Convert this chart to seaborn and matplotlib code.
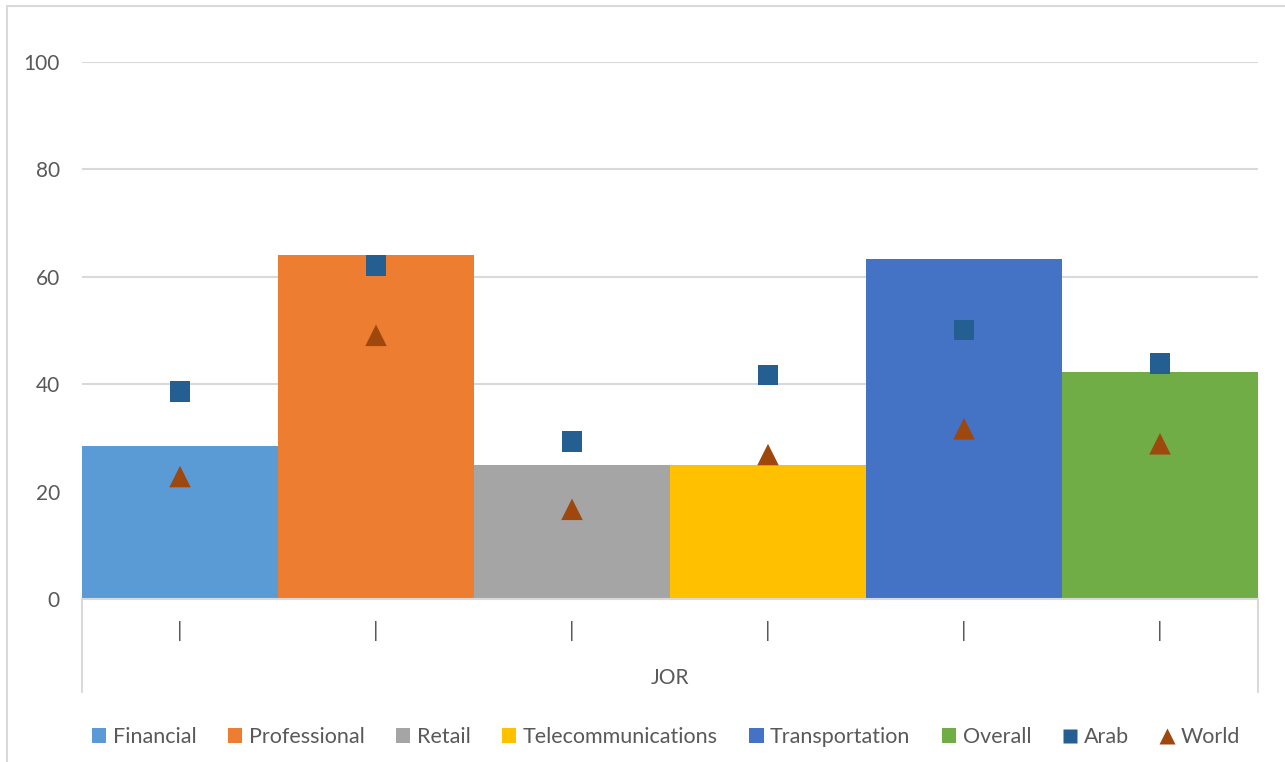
import matplotlib
matplotlib.use("Agg")
import matplotlib.pyplot as plt
import seaborn as sns
import pandas as pd
from matplotlib.patches import Patch, Rectangle
from matplotlib.lines import Line2D

# ---- data ----
sectors = ["Financial", "Professional", "Retail", "Telecommunications", "Transportation", "Overall"]
jor_values = [28.5, 64.0, 24.9, 24.9, 63.4, 42.2]
arab_values = [38.6, 62.1, 29.4, 41.7, 50.1, 43.9]
world_values = [22.8, 49.1, 16.7, 26.9, 31.7, 28.9]
country = "JOR"
yticks = [0, 20, 40, 60, 80, 100]

bar_colors = ["#5B9BD5", "#ED7D31", "#A5A5A5", "#FFC000", "#4472C4", "#70AD47"]
arab_color = "#255E91"
world_color = "#9E480E"
text_color = "#595959"
grid_color = "#D9D9D9"

sns.set_theme(style="white")
plt.rcParams["font.family"] = ["Lato", "DejaVu Sans"]

W, H = 1285, 762
fig = plt.figure(figsize=(W / 100, H / 100), dpi=100)
ax = fig.add_axes([82 / W, (H - 599) / H, (1258 - 82) / W, (599 - 62) / H])

df = pd.DataFrame({"sector": sectors, "value": jor_values})
sns.barplot(data=df, x="sector", y="value", hue="sector", palette=bar_colors,
            saturation=1, width=1.0, dodge=False, legend=False, ax=ax, zorder=2, linewidth=0)

pts = pd.DataFrame({"sector": sectors, "arab": arab_values, "world": world_values})
sns.scatterplot(data=pts, x="sector", y="arab", marker="s", s=225, color=arab_color,
                edgecolor="none", ax=ax, zorder=4)
sns.scatterplot(data=pts, x="sector", y="world", marker="^", s=240, color=world_color,
                edgecolor="none", ax=ax, zorder=4)

ax.set_xlim(-0.5, len(sectors) - 0.5)
ax.set_ylim(0, 100)
ax.set_yticks(yticks)
ax.set_yticklabels([str(v) for v in yticks], fontsize=15, color=text_color)
ax.yaxis.grid(True, color=grid_color, linewidth=1.5, zorder=0)
ax.set_axisbelow(True)
ax.tick_params(axis="y", length=0, pad=16)
ax.set_xticks(range(len(sectors)))
ax.set_xticklabels(["|"] * len(sectors), fontsize=15.5, color=text_color)
ax.tick_params(axis="x", length=0, pad=16)
ax.set_xlabel(country, fontsize=15, color=text_color, labelpad=19)
ax.set_ylabel("")
for sp in ["top", "right", "left"]:
    ax.spines[sp].set_visible(False)
ax.spines["bottom"].set_color(grid_color)
ax.spines["bottom"].set_linewidth(1.5)

# multi-level axis divider lines
for xpix in (82, 1258):
    fig.add_artist(Line2D([xpix / W, xpix / W], [(H - 599) / H, (H - 692) / H],
                          color=grid_color, linewidth=1.5))

# chart border
fig.add_artist(Rectangle((7 / W, -0.01), 1.2, (H - 6) / H + 0.01, transform=fig.transFigure,
                         fill=False, edgecolor=grid_color, linewidth=1.5))

handles = [Patch(facecolor=c, edgecolor="none", label=s) for s, c in zip(sectors, bar_colors)]
handles.append(Line2D([], [], marker="s", linestyle="none", markersize=10.5,
                      markerfacecolor=arab_color, markeredgecolor="none", label="Arab"))
handles.append(Line2D([], [], marker="^", linestyle="none", markersize=11.5,
                      markerfacecolor=world_color, markeredgecolor="none", label="World"))
leg = fig.legend(handles=handles, loc="center", bbox_to_anchor=(666 / W, (H - 737) / H),
                 ncol=8, frameon=False, fontsize=15.5, handlelength=0.68, handleheight=0.68,
                 handletextpad=0.3, columnspacing=1.45, labelcolor=text_color)

fig.savefig("out.png", dpi=100, facecolor="white")
